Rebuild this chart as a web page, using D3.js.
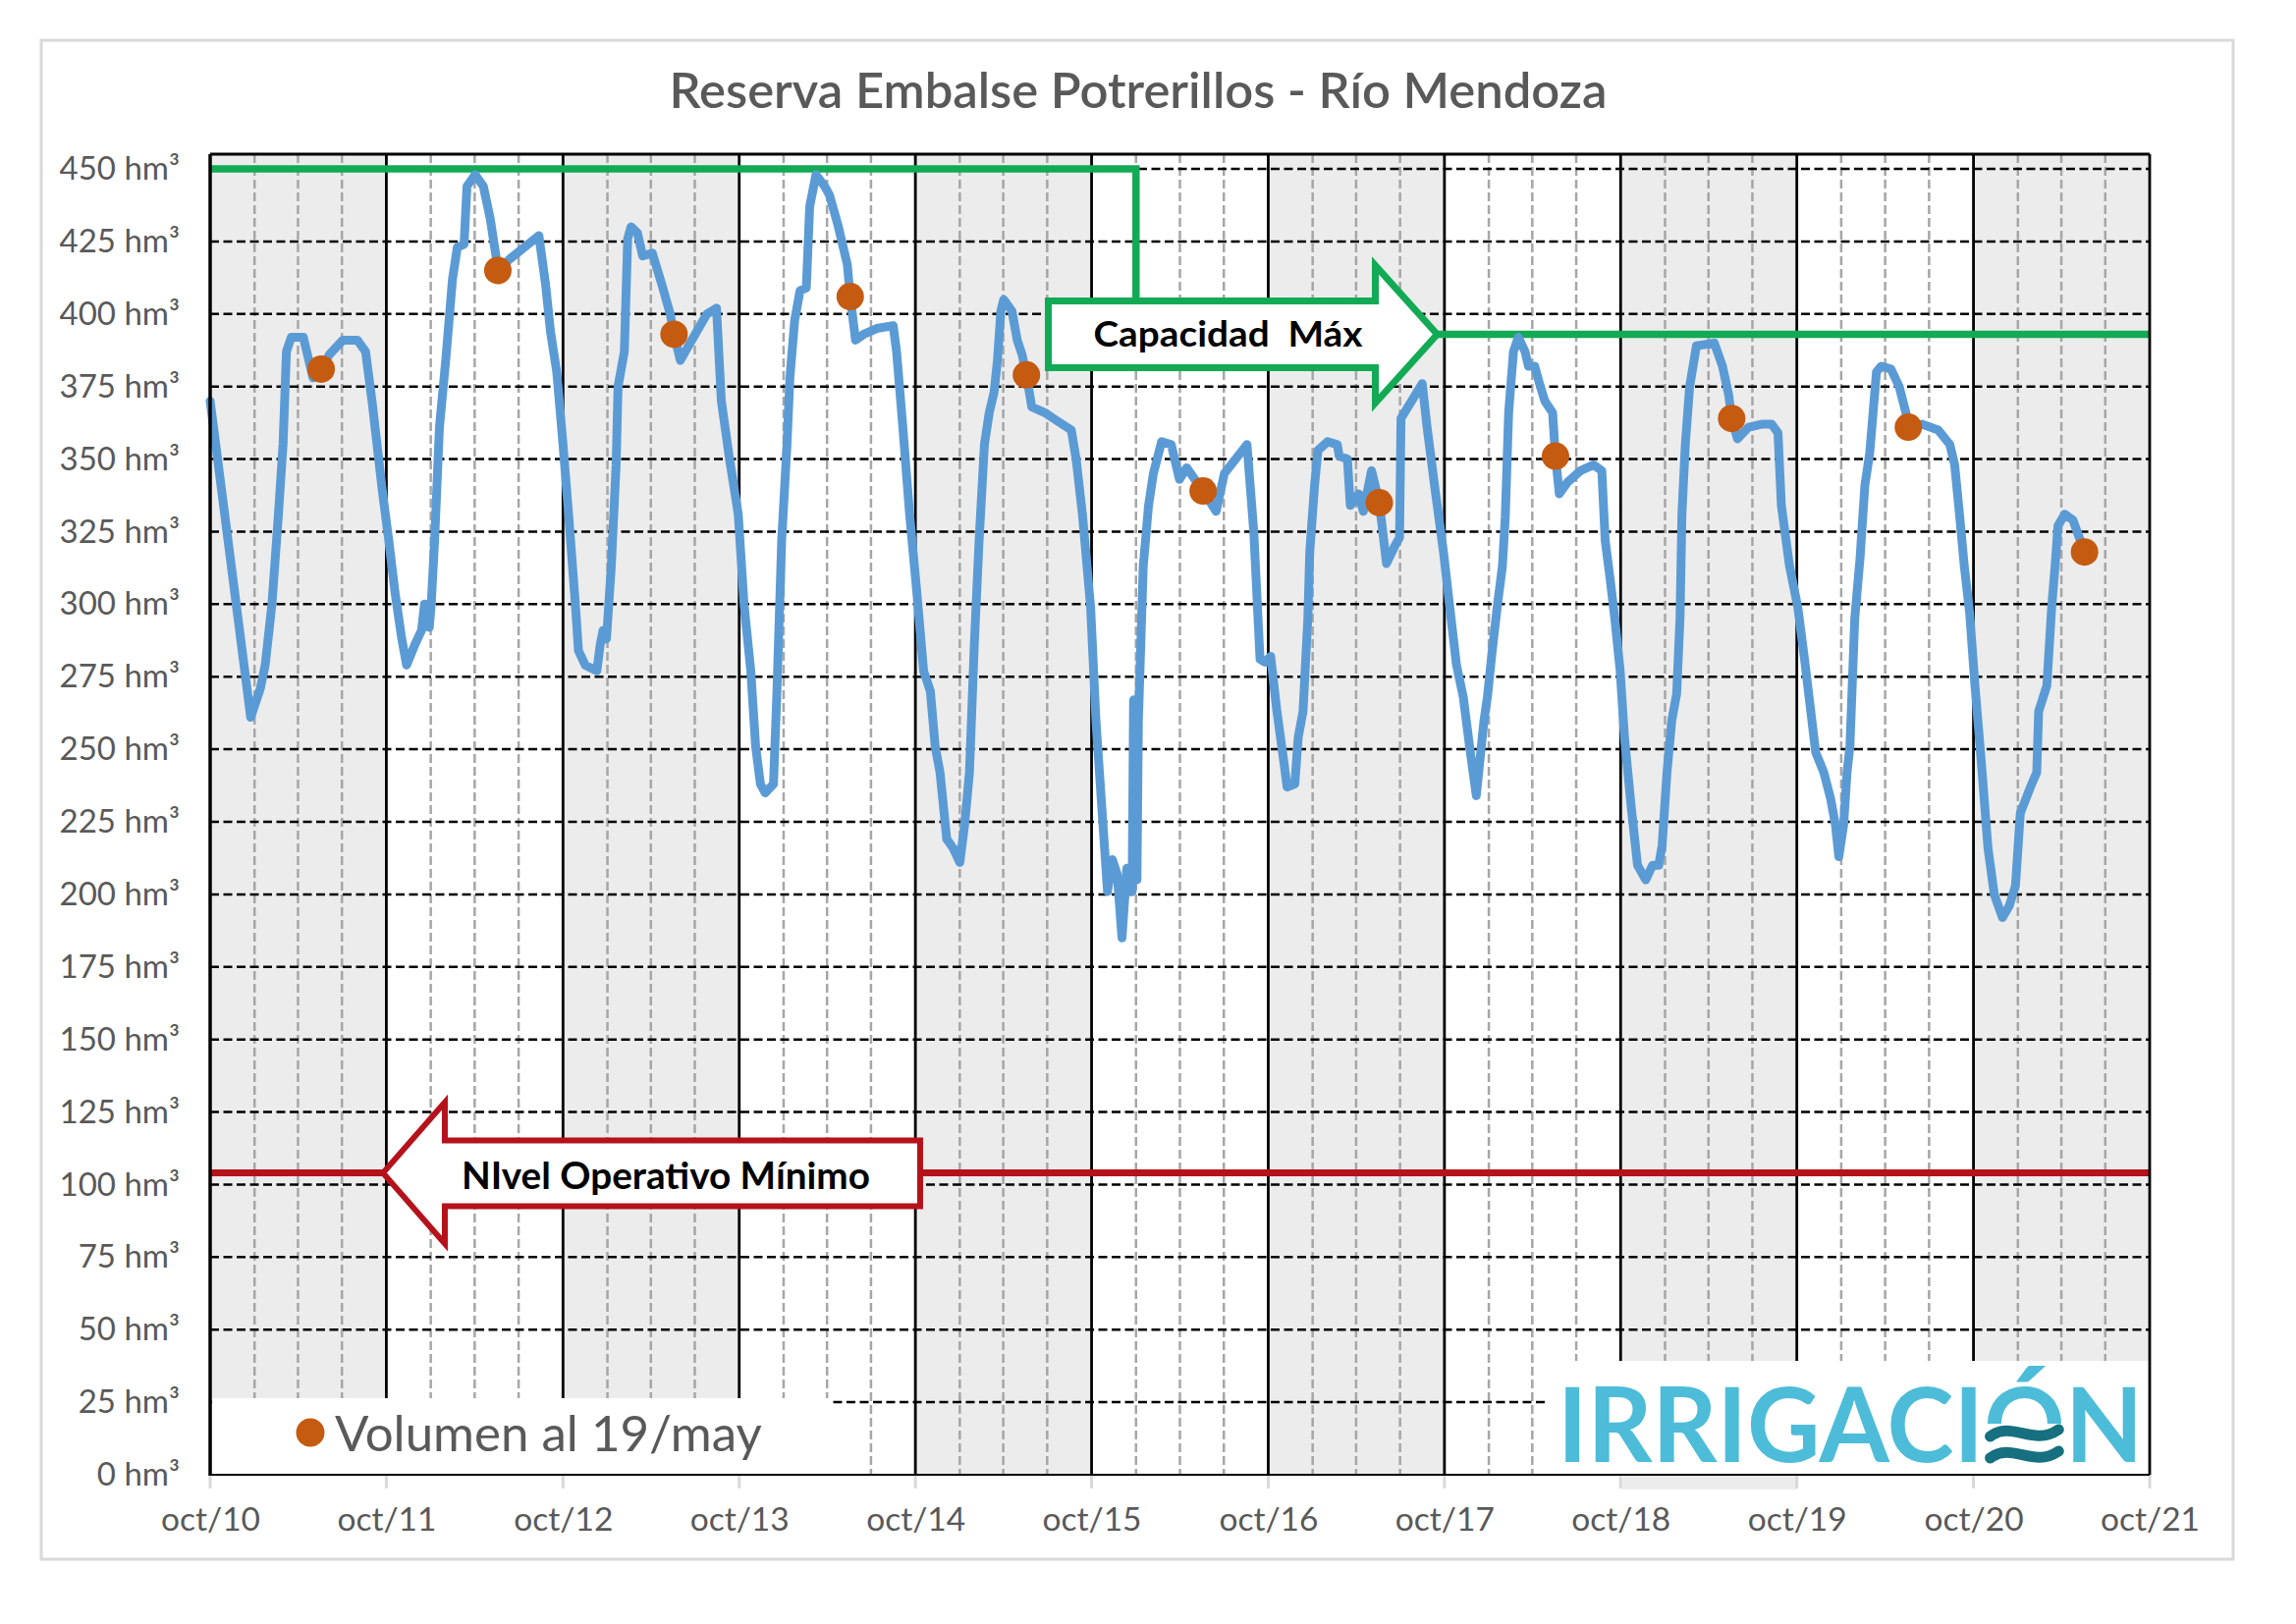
<!DOCTYPE html>
<html>
<head>
<meta charset="utf-8">
<script src="https://cdn.jsdelivr.net/npm/d3@7"></script>
<style>
  body { margin: 0; background: #fff; }
  svg { display: block; }
  text { font-family: Lato, "Open Sans", sans-serif; }
</style>
</head>
<body>
<svg id="chart" width="2338" height="1654"></svg>
<script>
// volumen embalse (hm3)
var fechas = [
  "2010-10-01","2010-12-24","2011-01-13","2011-01-23","2011-02-06","2011-02-19","2011-03-01","2011-03-08",
  "2011-03-18","2011-04-12","2011-05-02","2011-05-19","2011-06-05","2011-07-03","2011-08-02","2011-08-19",
  "2011-09-02","2011-09-22","2011-10-06","2011-10-19","2011-11-02","2011-11-12","2011-11-29","2011-12-13",
  "2011-12-19","2011-12-29","2012-01-02","2012-01-09","2012-01-19","2012-02-01","2012-02-15","2012-02-25",
  "2012-03-10","2012-03-16","2012-04-02","2012-04-19","2012-05-03","2012-05-16","2012-05-19","2012-06-13",
  "2012-08-12","2012-08-26","2012-09-05","2012-09-18","2012-09-30","2012-10-13","2012-10-27","2012-11-02",
  "2012-11-16","2012-12-10","2012-12-17","2012-12-23","2012-12-30","2013-01-09","2013-01-19","2013-01-23",
  "2013-02-05","2013-02-12","2013-02-19","2013-03-04","2013-03-15","2013-04-04","2013-04-24","2013-05-11",
  "2013-05-19","2013-06-01","2013-06-18","2013-07-26","2013-08-15","2013-08-25","2013-09-11","2013-09-29",
  "2013-10-11","2013-10-25","2013-11-04","2013-11-14","2013-11-24","2013-12-11","2013-12-18","2013-12-28",
  "2014-01-08","2014-01-14","2014-01-24","2014-02-04","2014-02-17","2014-02-24","2014-03-09","2014-03-27",
  "2014-04-06","2014-04-23","2014-05-13","2014-05-19","2014-05-30","2014-06-16","2014-07-13","2014-08-16",
  "2014-08-23","2014-09-05","2014-09-19","2014-10-04","2014-10-18","2014-11-01","2014-11-11","2014-11-21",
  "2014-12-05","2014-12-18","2015-01-01","2015-01-11","2015-01-21","2015-01-31","2015-02-10","2015-02-21",
  "2015-03-03","2015-03-13","2015-03-20","2015-03-27","2015-04-02","2015-04-19","2015-04-30","2015-05-10",
  "2015-05-19","2015-05-30","2015-06-26","2015-07-23","2015-08-20","2015-08-30","2015-09-12","2015-09-29",
  "2015-10-10","2015-10-23","2015-11-03","2015-11-13","2015-11-23","2015-12-03","2015-12-13","2015-12-24",
  "2015-12-27","2016-01-03","2016-01-06","2016-01-16","2016-01-27","2016-02-06","2016-02-23","2016-03-14",
  "2016-03-31","2016-04-15","2016-05-19","2016-06-15","2016-07-02","2016-08-18","2016-09-01","2016-09-14",
  "2016-09-24","2016-10-06","2016-10-19","2016-11-02","2016-11-09","2016-11-25","2016-12-02","2016-12-12",
  "2016-12-22","2016-12-26","2017-01-05","2017-01-12","2017-02-01","2017-02-21","2017-02-25","2017-03-14",
  "2017-03-20","2017-04-06","2017-04-16","2017-05-03","2017-05-19","2017-06-03","2017-06-20","2017-06-30",
  "2017-07-03","2017-08-16","2017-08-26","2017-09-12","2017-09-29","2017-10-12","2017-10-26","2017-11-09",
  "2017-11-22","2017-12-06","2017-12-22","2017-12-29","2018-01-08","2018-01-19","2018-01-29","2018-02-04",
  "2018-02-11","2018-02-21","2018-03-03","2018-03-17","2018-03-24","2018-04-06","2018-04-16","2018-04-27",
  "2018-05-13","2018-05-19","2018-05-27","2018-06-13","2018-07-10","2018-08-06","2018-08-23","2018-08-30",
  "2018-09-09","2018-09-19","2018-09-30","2018-10-09","2018-10-23","2018-11-05","2018-11-22","2018-12-06",
  "2018-12-19","2018-12-26","2019-01-05","2019-01-15","2019-01-25","2019-02-01","2019-02-05","2019-02-12",
  "2019-02-21","2019-03-07","2019-04-13","2019-04-30","2019-05-13","2019-05-19","2019-05-31","2019-06-23",
  "2019-07-20","2019-08-10","2019-08-23","2019-08-30","2019-09-16","2019-10-03","2019-10-17","2019-10-30",
  "2019-11-09","2019-11-26","2019-12-10","2019-12-20","2019-12-27","2020-01-06","2020-01-13","2020-01-19",
  "2020-01-29","2020-02-09","2020-02-19","2020-02-29","2020-03-14","2020-03-24","2020-04-13","2020-04-30",
  "2020-05-14","2020-05-19","2020-06-16","2020-07-20","2020-08-13","2020-08-23","2020-09-02","2020-09-12",
  "2020-09-23","2020-10-04","2020-10-17","2020-10-31","2020-11-13","2020-11-30","2020-12-14","2020-12-27",
  "2021-01-06","2021-01-27","2021-02-09","2021-02-13","2021-03-02","2021-03-12","2021-03-19","2021-03-25",
  "2021-04-08","2021-04-25","2021-05-08","2021-05-19"
];
var volumen = [
  370,261,271,279,300,330,355,387,
  392,392,378,381,386,391,391,387,
  369,340,322,304,288,279,286,291,
  300,292,300,322,361,384,412,423,
  424,444,448,444,433,419,415,419,
  427,410,394,380,357,330,299,284,
  279,277,286,291,288,313,348,375,
  387,426,430,428,420,421,410,400,
  393,384,389,400,402,370,350,331,
  300,277,251,238,235,238,269,322,
  355,378,398,408,409,437,448,444,
  441,431,417,406,391,393,395,396,
  387,361,331,304,277,270,251,242,
  219,216,211,224,242,286,322,355,
  366,373,384,401,405,401,391,386,
  379,368,366,363,360,350,331,299,
  260,228,201,212,207,185,209,201,
  267,205,260,313,334,345,356,355,
  343,347,339,332,345,355,325,281,
  280,282,263,246,237,238,254,263,
  295,318,341,353,356,355,351,350,
  334,338,332,346,335,314,320,323,
  364,376,361,339,318,299,279,268,
  251,234,260,268,284,300,313,330,
  366,387,392,387,382,382,376,370,
  366,351,338,342,346,348,346,322,
  309,295,277,254,230,210,205,210,
  210,217,242,260,269,295,331,355,
  375,389,390,382,372,364,357,361,
  362,362,359,334,313,299,281,263,
  249,242,233,224,213,224,242,251,
  295,316,341,352,380,382,381,375,
  366,361,362,360,355,348,331,313,
  297,272,246,216,200,192,196,203,
  228,237,242,263,272,299,313,327,
  331,329,323,318
];

// "Volumen al 19/may"
var fechasMayo = ["2011-05-19","2012-05-19","2013-05-19","2014-05-19","2015-05-19","2016-05-19",
                  "2017-05-19","2018-05-19","2019-05-19","2020-05-19","2021-05-19"];
var volumenMayo = [381, 415, 393, 406, 379, 339, 335, 351, 364, 361, 318];

// capacidad maxima (escalon) y nivel operativo minimo
var capFechas = ["2010-10-01", "2016-01-01", "2021-10-01"];
var capValores = [450, 393];
var nivelMinimo = 104;

var yTicks = d3.range(0, 451, 25);
var anios = d3.range(2010, 2022);

var parse = d3.timeParse("%Y-%m-%d");
var serie = fechas.map(function(f, i) { return { date: parse(f), v: volumen[i] }; });
var puntos = fechasMayo.map(function(f, i) { return { date: parse(f), v: volumenMayo[i] }; });

// ojo: "top" es window.top, no se puede usar
var pLeft = 214, pRight = 2189, pTop = 157, pBottom = 1502;

var svg = d3.select("#chart");

var x = d3.scaleTime()
  .domain([new Date(2010, 9, 1), new Date(2021, 9, 1)])
  .range([pLeft, pRight]);
var y = d3.scaleLinear().domain([0, 450]).range([pBottom, 172]);

var gris = "#595959";

// marco exterior
svg.append("rect").attr("x", 42).attr("y", 41).attr("width", 2232).attr("height", 1547)
  .attr("fill", "#fff").attr("stroke", "#d9d9d9").attr("stroke-width", 3);

// titulo
svg.append("text").attr("x", 1159).attr("y", 110).attr("text-anchor", "middle")
  .attr("font-size", 50).attr("font-weight", 600).attr("fill", gris)
  .attr("textLength", 955).attr("lengthAdjust", "spacingAndGlyphs")
  .text("Reserva Embalse Potrerillos - Río Mendoza");

// franjas grises por anio hidrologico
var fechasOct = anios.map(function(a) { return new Date(a, 9, 1); });
svg.append("g").selectAll("rect")
  .data(fechasOct.slice(0, -1).filter(function(d, i) { return i % 2 === 0; }))
  .join("rect")
  .attr("x", function(d) { return x(d); })
  .attr("y", pTop)
  .attr("width", function(d) { return x(new Date(d.getFullYear() + 1, 9, 1)) - x(d); })
  .attr("height", pBottom - pTop)
  .attr("fill", "#ececec");

// detalle bajo el eje (oct/18 - oct/19)
svg.append("rect").attr("x", x(new Date(2018, 9, 1)) + 2).attr("y", pBottom + 1)
  .attr("width", x(new Date(2019, 9, 1)) - x(new Date(2018, 9, 1)) - 2).attr("height", 14)
  .attr("fill", "#ececec");

// lineas trimestrales (ene, abr, jul)
var trimestres = [];
anios.slice(0, -1).forEach(function(a) {
  trimestres.push(new Date(a + 1, 0, 1), new Date(a + 1, 3, 1), new Date(a + 1, 6, 1));
});
svg.append("g").selectAll("line").data(trimestres).join("line")
  .attr("x1", function(d) { return x(d); }).attr("x2", function(d) { return x(d); })
  .attr("y1", pTop).attr("y2", pBottom)
  .attr("stroke", "#a6a6a6").attr("stroke-width", 2.5).attr("stroke-dasharray", "9,4");

// lineas de anio
svg.append("g").selectAll("line").data(fechasOct.slice(1, -1)).join("line")
  .attr("x1", function(d) { return x(d); }).attr("x2", function(d) { return x(d); })
  .attr("y1", pTop).attr("y2", pBottom)
  .attr("stroke", "#000").attr("stroke-width", 2.8);

// grilla horizontal
svg.append("g").selectAll("line").data(yTicks.slice(1)).join("line")
  .attr("x1", pLeft).attr("x2", pRight)
  .attr("y1", function(d) { return y(d); }).attr("y2", function(d) { return y(d); })
  .attr("stroke", "#000").attr("stroke-width", 2.5).attr("stroke-dasharray", "9,4.5");

// nivel operativo minimo
var rojo = "#b5121b";
var ry = y(nivelMinimo);
var rTip = x(new Date(2011, 8, 24));
var rEnd = rTip + 547;
svg.append("line").attr("x1", x(new Date(2010, 9, 1))).attr("x2", rTip)
  .attr("y1", ry).attr("y2", ry).attr("stroke", rojo).attr("stroke-width", 7);
svg.append("line").attr("x1", rEnd).attr("x2", pRight)
  .attr("y1", ry).attr("y2", ry).attr("stroke", rojo).attr("stroke-width", 7);

// capacidad maxima
var verde = "#12aa55";
var gy = y(capValores[1]);
var gTip = x(new Date(2017, 8, 16));
var gStep = x(parse(capFechas[1]));
svg.append("path")
  .attr("d", "M" + x(parse(capFechas[0])) + "," + y(capValores[0]) +
    "H" + gStep + "V" + (gy - 34))
  .attr("fill", "none").attr("stroke", verde).attr("stroke-width", 7.5);
svg.append("line").attr("x1", gTip).attr("x2", x(parse(capFechas[2])))
  .attr("y1", gy).attr("y2", gy).attr("stroke", verde).attr("stroke-width", 7.5);

// serie de volumen
var line = d3.line()
  .x(function(d) { return x(d.date); })
  .y(function(d) { return y(d.v); });
svg.append("path").datum(serie)
  .attr("d", line)
  .attr("fill", "none").attr("stroke", "#5b9bd5").attr("stroke-width", 9)
  .attr("stroke-linejoin", "round").attr("stroke-linecap", "round");

svg.append("g").selectAll("circle").data(puntos).join("circle")
  .attr("cx", function(d) { return x(d.date); })
  .attr("cy", function(d) { return y(d.v); })
  .attr("r", 14).attr("fill", "#c55a11");

// flecha capacidad
svg.append("path")
  .attr("d", "M" + gTip + "," + gy +
    "L" + (gTip - 63) + "," + (gy - 70) + "V" + (gy - 34) + "H" + (gTip - 396) +
    "V" + (gy + 34) + "H" + (gTip - 63) + "V" + (gy + 70) + "Z")
  .attr("fill", "#fff").attr("stroke", verde).attr("stroke-width", 7)
  .attr("stroke-linejoin", "miter");
svg.append("text").attr("x", gTip - 350).attr("y", gy + 13)
  .attr("font-size", 37).attr("font-weight", "bold").attr("fill", "#000")
  .attr("textLength", 274).attr("lengthAdjust", "spacingAndGlyphs")
  .style("white-space", "pre")
  .text("Capacidad  Máx");

// flecha nivel minimo
svg.append("path")
  .attr("d", "M" + rTip + "," + ry +
    "L" + (rTip + 63) + "," + (ry - 72) + "V" + (ry - 33) + "H" + rEnd +
    "V" + (ry + 34) + "H" + (rTip + 63) + "V" + (ry + 72) + "Z")
  .attr("fill", "#fff").attr("stroke", rojo).attr("stroke-width", 6)
  .attr("stroke-linejoin", "miter");
svg.append("text").attr("x", rTip + 80).attr("y", ry + 16)
  .attr("font-size", 38).attr("font-weight", "bold").attr("fill", "#000")
  .attr("textLength", 416).attr("lengthAdjust", "spacingAndGlyphs")
  .text("NIvel Operativo Mínimo");

// leyenda
svg.append("rect").attr("x", pLeft + 2).attr("y", 1424).attr("width", 629).attr("height", pBottom - 1424)
  .attr("fill", "#fff");
svg.append("circle").attr("cx", 316).attr("cy", 1459).attr("r", 14.5).attr("fill", "#c55a11");
svg.append("text").attr("x", 341).attr("y", 1478)
  .attr("font-size", 51).attr("fill", gris)
  .text("Volumen al 19/may");

// logo
svg.append("rect").attr("x", 1577).attr("y", 1386).attr("width", pRight - 1577).attr("height", pBottom - 1386)
  .attr("fill", "#fff");
var logo = svg.append("text").attr("x", 1586).attr("y", 1489)
  .attr("font-size", 106).attr("font-weight", "bold").attr("fill", "#4dbcd8")
  .attr("textLength", 596).attr("lengthAdjust", "spacingAndGlyphs")
  .text("IRRIGACIÓN");
var oBox = logo.node().getExtentOfChar(8);
var ox = oBox.x, ow = oBox.width;
svg.append("rect").attr("x", ox).attr("y", 1450).attr("width", ow).attr("height", 45).attr("fill", "#fff");
[1458, 1480].forEach(function(wy) {
  svg.append("path")
    .attr("d", "M" + (ox + ow * 0.08) + "," + (wy + 5) +
      "C" + (ox + ow * 0.35) + "," + (wy - 12) + " " + (ox + ow * 0.6) + "," + (wy + 16) +
      " " + (ox + ow * 0.92) + "," + (wy - 2))
    .attr("fill", "none").attr("stroke", "#17707f").attr("stroke-width", 11)
    .attr("stroke-linecap", "round");
});

// marcas bajo el eje
svg.append("g").selectAll("line").data(fechasOct).join("line")
  .attr("x1", function(d) { return x(d); }).attr("x2", function(d) { return x(d); })
  .attr("y1", pBottom + 1).attr("y2", pBottom + 14)
  .attr("stroke", "#d9d9d9").attr("stroke-width", 3);

// borde del area
svg.append("line").attr("x1", pLeft).attr("x2", pRight).attr("y1", pTop).attr("y2", pTop)
  .attr("stroke", "#000").attr("stroke-width", 3);
svg.append("line").attr("x1", pRight).attr("x2", pRight).attr("y1", pTop).attr("y2", pBottom)
  .attr("stroke", "#000").attr("stroke-width", 2.8);
svg.append("line").attr("x1", pLeft).attr("x2", pLeft).attr("y1", pTop).attr("y2", pBottom + 1)
  .attr("stroke", "#000").attr("stroke-width", 3.5);
svg.append("line").attr("x1", pLeft).attr("x2", pRight).attr("y1", pBottom).attr("y2", pBottom)
  .attr("stroke", "#000").attr("stroke-width", 2);

// ejes
var yAxis = svg.append("g").attr("transform", "translate(" + pLeft + ",0)")
  .call(d3.axisLeft(y).tickValues(yTicks).tickSize(0).tickPadding(31)
    .tickFormat(function(d) { return d + " hm³"; }));
yAxis.select(".domain").remove();
yAxis.selectAll("text").attr("font-family", "Lato, sans-serif").attr("font-size", 33).attr("fill", gris);

var xAxis = svg.append("g").attr("transform", "translate(0," + pBottom + ")")
  .call(d3.axisBottom(x).tickValues(fechasOct).tickSize(0).tickPadding(33)
    .tickFormat(d3.timeFormat("oct/%y")));
xAxis.select(".domain").remove();
xAxis.selectAll("text").attr("font-family", "Lato, sans-serif").attr("font-size", 33.5).attr("fill", gris);
</script>
</body>
</html>
